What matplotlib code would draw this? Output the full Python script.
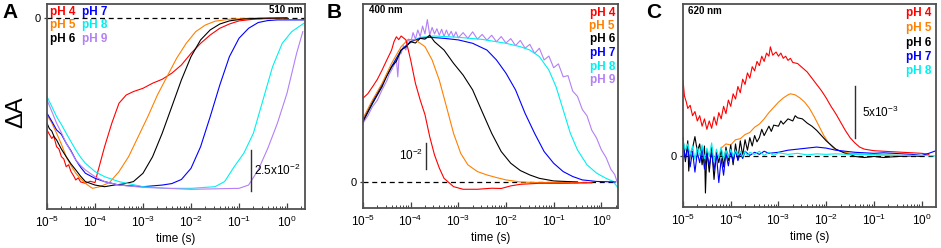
import numpy as np
import matplotlib
matplotlib.use('Agg')
import matplotlib.pyplot as plt
from matplotlib.ticker import LogLocator, NullFormatter

plt.rcParams['font.family'] = ['Liberation Sans', 'DejaVu Sans']
plt.rcParams['mathtext.default'] = 'regular'

# colours of the pH series
ph_labels = ['pH 4', 'pH 5', 'pH 6', 'pH 7', 'pH 8', 'pH 9']
ph_colors = ['#ff0000', '#ff8000', '#000000', '#0000ff', '#00f0f0', '#b380f5']

# ---- panel A, 510 nm : (log10 t, dA in 1e-3) ----
a_ph4 = [(-5.0, -68.3), (-4.95, -71.0), (-4.9, -73.5), (-4.86, -72.0), (-4.8, -78.5), (-4.75, -80.0),
         (-4.7, -84.6), (-4.65, -86.0), (-4.6, -90.7), (-4.55, -89.5), (-4.5, -93.7), (-4.45, -96.0),
         (-4.4, -98.8), (-4.35, -97.5), (-4.3, -100.0), (-4.2, -100.8), (-4.1, -99.6), (-4.0, -100.4),
         (-3.95, -94.7), (-3.8, -78.5), (-3.65, -64.2), (-3.5, -52.0), (-3.35, -47.0), (-3.2, -44.9),
         (-3.0, -42.9), (-2.8, -39.8), (-2.6, -37.4), (-2.4, -33.7), (-2.2, -28.7), (-2.0, -21.6),
         (-1.8, -15.5), (-1.6, -10.4), (-1.4, -6.3), (-1.2, -3.7), (-1.0, -1.8), (-0.7, -0.8),
         (-0.3, -0.2), (0.0, 0.0)]
a_ph5 = [(-5.0, -59.2), (-4.9, -64.0), (-4.8, -70.3), (-4.7, -77.0), (-4.6, -84.6), (-4.5, -90.0),
         (-4.4, -94.7), (-4.3, -98.0), (-4.2, -100.8), (-4.1, -103.0), (-4.05, -103.9), (-3.9, -102.9),
         (-3.7, -100.4), (-3.5, -93.7), (-3.3, -84.6), (-3.1, -72.4), (-2.9, -60.2), (-2.7, -47.0),
         (-2.5, -35.8), (-2.3, -24.6), (-2.1, -15.5), (-1.9, -8.3), (-1.7, -4.3), (-1.5, -2.0),
         (-1.2, -0.8), (-0.8, -0.2), (0.0, 0.0)]
a_ph6 = [(-5.0, -64.2), (-4.95, -67.5), (-4.9, -69.0), (-4.85, -72.5), (-4.8, -74.4), (-4.7, -80.0),
         (-4.6, -84.6), (-4.5, -89.0), (-4.4, -92.7), (-4.3, -96.5), (-4.2, -99.8), (-4.0, -101.9),
         (-3.8, -102.9), (-3.6, -101.9), (-3.4, -101.2), (-3.2, -99.8), (-3.0, -94.7), (-2.8, -84.6),
         (-2.6, -70.3), (-2.4, -54.1), (-2.2, -37.8), (-2.0, -23.6), (-1.8, -13.4), (-1.6, -7.3),
         (-1.4, -3.7), (-1.2, -1.8), (-0.9, -0.6), (-0.5, -0.2), (0.0, 0.0)]
a_ph7 = [(-5.0, -58.1), (-4.9, -63.0), (-4.8, -68.3), (-4.7, -71.0), (-4.6, -76.4), (-4.5, -81.0),
         (-4.4, -86.6), (-4.3, -91.0), (-4.2, -94.7), (-4.0, -97.8), (-3.8, -99.8), (-3.5, -101.9),
         (-3.0, -102.9), (-2.6, -101.9), (-2.4, -101.0), (-2.2, -98.5), (-2.0, -91.7), (-1.8, -78.5),
         (-1.6, -60.2), (-1.4, -40.9), (-1.2, -23.6), (-1.0, -12.4), (-0.8, -6.3), (-0.6, -2.8),
         (-0.4, -1.6), (-0.2, -1.2), (0.35, -1.2)]
a_ph8 = [(-5.0, -48.0), (-4.9, -54.0), (-4.8, -60.2), (-4.7, -65.0), (-4.6, -70.3), (-4.5, -75.5),
         (-4.4, -80.5), (-4.3, -85.0), (-4.2, -88.6), (-4.0, -93.7), (-3.8, -96.8), (-3.5, -99.8),
         (-3.0, -102.9), (-2.5, -103.9), (-2.0, -103.9), (-1.5, -102.9), (-1.3, -99.8), (-1.1, -90.7),
         (-0.9, -82.5), (-0.7, -70.3), (-0.5, -50.0), (-0.3, -29.7), (-0.1, -15.5), (0.1, -8.3),
         (0.35, -3.3)]
a_ph9 = [(-5.0, -50.0), (-4.9, -57.0), (-4.8, -64.2), (-4.7, -70.0), (-4.6, -76.4), (-4.5, -81.5),
         (-4.4, -86.6), (-4.3, -90.0), (-4.2, -92.7), (-4.0, -96.8), (-3.8, -99.8), (-3.5, -101.9),
         (-3.0, -103.3), (-2.5, -103.9), (-2.0, -104.5), (-1.5, -104.2), (-1.0, -103.9), (-0.8, -101.9),
         (-0.6, -92.7), (-0.4, -79.5), (-0.2, -64.2), (0.0, -45.9), (0.2, -21.6), (0.33, -8.3)]

# ---- panel B, 400 nm ----
b_ph4 = [(-5.0, 32.3), (-4.9, 34.0), (-4.8, 36.7), (-4.7, 39.5), (-4.6, 43.1), (-4.5, 47.0),
         (-4.4, 50.8), (-4.35, 54.0), (-4.3, 55.9), (-4.25, 54.8), (-4.2, 56.2), (-4.1, 54.7),
         (-4.0, 47.0), (-3.9, 38.0), (-3.8, 31.6), (-3.7, 26.0), (-3.6, 17.5), (-3.5, 10.5),
         (-3.4, 5.5), (-3.3, 1.5), (-3.1, -1.7), (-2.9, -2.7), (-2.6, -2.7), (-2.3, -2.3),
         (-2.1, -2.4), (-1.9, -1.4), (-1.7, -0.8), (-1.3, -0.4), (-0.8, -0.4), (-0.2, -0.2)]
b_ph5 = [(-5.0, 24.6), (-4.8, 31.6), (-4.6, 38.0), (-4.4, 45.7), (-4.2, 52.1), (-4.05, 54.9),
         (-3.9, 54.7), (-3.7, 52.1), (-3.55, 47.0), (-3.4, 39.3), (-3.25, 29.1), (-3.1, 18.8),
         (-2.95, 11.1), (-2.8, 6.7), (-2.6, 4.1), (-2.4, 2.8), (-2.2, 1.8), (-2.0, 0.9),
         (-1.7, 0.1), (-1.4, -0.1), (-1.0, -0.1), (-0.2, -0.2)]
b_ph6 = [(-5.0, 23.3), (-4.8, 30.3), (-4.6, 36.7), (-4.5, 41.0), (-4.4, 44.4), (-4.3, 46.5),
         (-4.2, 50.8), (-4.1, 52.0), (-4.0, 54.0), (-3.9, 53.5), (-3.8, 55.3), (-3.7, 55.0),
         (-3.6, 56.5), (-3.5, 54.0), (-3.3, 50.8), (-3.1, 45.7), (-2.9, 41.2), (-2.7, 35.5),
         (-2.5, 27.1), (-2.3, 18.8), (-2.1, 11.8), (-1.9, 7.3), (-1.7, 4.5), (-1.5, 2.8),
         (-1.3, 1.5), (-1.0, 0.5), (-0.5, 0.1)]
b_ph7 = [(-5.0, 23.9), (-4.8, 31.0), (-4.6, 37.4), (-4.4, 44.4), (-4.2, 50.8), (-4.0, 54.0),
         (-3.8, 55.3), (-3.6, 55.7), (-3.3, 55.3), (-3.0, 54.7), (-2.7, 53.4), (-2.4, 50.8),
         (-2.2, 47.0), (-2.0, 41.9), (-1.8, 35.5), (-1.6, 26.5), (-1.4, 18.8), (-1.2, 11.8),
         (-1.0, 7.3), (-0.8, 4.1), (-0.6, 2.2), (-0.4, 0.9), (-0.1, 0.3), (0.3, 0.1)]
b_ph8 = [(-5.0, 23.9), (-4.8, 30.3), (-4.6, 37.4), (-4.4, 44.4), (-4.2, 50.8), (-4.0, 54.0),
         (-3.8, 55.7), (-3.5, 56.2), (-3.0, 55.7), (-2.5, 54.9), (-2.0, 53.4), (-1.7, 52.1),
         (-1.5, 50.8), (-1.3, 48.3), (-1.1, 43.1), (-0.95, 36.7), (-0.8, 27.8), (-0.65, 18.8),
         (-0.5, 12.4), (-0.3, 6.7), (-0.1, 3.5), (0.1, 1.5), (0.25, 0.3), (0.34, -1.9)]
b_ph9 = [(-5.0, 22.7), (-4.9, 25.5), (-4.8, 29.1), (-4.7, 31.5), (-4.6, 35.5), (-4.5, 39.0),
         (-4.45, 41.5), (-4.4, 43.1), (-4.35, 45.0), (-4.3, 47.5), (-4.27, 40.5), (-4.24, 49.0),
         (-4.2, 49.5), (-4.15, 52.5), (-4.1, 50.8), (-4.05, 55.0), (-4.0, 53.5), (-3.95, 57.5),
         (-3.9, 55.0), (-3.85, 58.5), (-3.8, 56.0), (-3.75, 60.0), (-3.7, 57.0), (-3.65, 62.5),
         (-3.6, 56.5), (-3.55, 59.5), (-3.5, 57.0), (-3.45, 59.0), (-3.4, 56.5), (-3.35, 58.8),
         (-3.3, 56.0), (-3.25, 58.5), (-3.2, 56.2), (-3.15, 58.0), (-3.1, 55.8), (-3.05, 57.8),
         (-3.0, 55.5), (-2.9, 57.5), (-2.8, 55.3), (-2.7, 57.8), (-2.6, 55.0), (-2.5, 56.8),
         (-2.4, 54.6), (-2.3, 56.5), (-2.2, 54.0), (-2.1, 56.0), (-2.0, 53.5), (-1.9, 55.2),
         (-1.8, 52.5), (-1.7, 54.5), (-1.6, 51.5), (-1.5, 53.0), (-1.4, 49.5), (-1.3, 51.5),
         (-1.2, 47.0), (-1.1, 48.5), (-1.0, 44.0), (-0.9, 45.5), (-0.8, 40.5), (-0.7, 41.0),
         (-0.6, 35.0), (-0.5, 33.0), (-0.4, 28.0), (-0.3, 25.5), (-0.2, 20.0), (-0.1, 17.0),
         (0.0, 12.5), (0.1, 9.5), (0.2, 5.0), (0.28, 3.0), (0.33, 0.3)]

# ---- panel C, 620 nm ----
c_ph4 = [(-5.0, 7.3), (-4.97, 5.8), (-4.93, 5.2), (-4.9, 4.6), (-4.85, 4.9), (-4.8, 3.9),
         (-4.75, 4.3), (-4.7, 3.4), (-4.65, 3.9), (-4.6, 2.9), (-4.55, 3.6), (-4.5, 2.6),
         (-4.45, 3.4), (-4.4, 2.7), (-4.35, 3.8), (-4.3, 3.0), (-4.25, 4.2), (-4.2, 3.6),
         (-4.15, 4.8), (-4.1, 4.1), (-4.05, 5.4), (-4.0, 4.8), (-3.95, 6.0), (-3.9, 5.5),
         (-3.85, 6.7), (-3.8, 6.1), (-3.75, 7.4), (-3.7, 6.9), (-3.65, 8.0), (-3.6, 7.5),
         (-3.55, 8.6), (-3.5, 8.2), (-3.45, 9.1), (-3.4, 8.7), (-3.35, 9.6), (-3.3, 9.1),
         (-3.25, 9.9), (-3.2, 9.6), (-3.17, 10.5), (-3.12, 9.7), (-3.05, 10.0), (-3.0, 9.6),
         (-2.95, 9.9), (-2.9, 9.4), (-2.85, 9.6), (-2.8, 9.2), (-2.75, 9.4), (-2.7, 9.0),
         (-2.6, 8.9), (-2.5, 8.5), (-2.4, 8.1), (-2.3, 7.5), (-2.2, 6.9), (-2.1, 6.3),
         (-2.0, 5.6), (-1.9, 4.8), (-1.8, 4.1), (-1.7, 3.3), (-1.6, 2.5), (-1.5, 1.8),
         (-1.4, 1.3), (-1.3, 0.9), (-1.2, 0.7), (-1.0, 0.55), (-0.8, 0.5), (-0.6, 0.45),
         (-0.4, 0.4), (-0.2, 0.35), (0.0, 0.3), (0.15, 0.2)]
c_ph5 = [(-4.2, 0.8), (-4.1, 1.2), (-4.0, 1.1), (-3.9, 1.6), (-3.8, 1.7), (-3.7, 2.1), (-3.6, 2.3),
         (-3.5, 2.8), (-3.4, 3.1), (-3.3, 3.6), (-3.2, 4.2), (-3.1, 4.7), (-3.0, 5.2), (-2.9, 5.6),
         (-2.8, 5.9), (-2.75, 6.0), (-2.65, 5.9), (-2.55, 5.6), (-2.45, 5.2), (-2.35, 4.6),
         (-2.25, 3.8), (-2.15, 2.9), (-2.05, 2.0), (-1.95, 1.3), (-1.85, 0.8), (-1.7, 0.5),
         (-1.5, 0.3), (-1.2, 0.2), (-0.8, 0.15), (-0.5, 0.1)]
c_ph6 = [(-5.0, 1.8), (-4.95, -0.5), (-4.9, 1.5), (-4.88, -1.4), (-4.85, 0.2), (-4.8, 0.8),
         (-4.75, 1.9), (-4.7, 0.5), (-4.65, 1.2), (-4.6, -0.8), (-4.55, 1.0), (-4.53, -3.5),
         (-4.5, 0.6), (-4.45, -1.5), (-4.4, 0.9), (-4.35, -2.2), (-4.3, 0.4), (-4.25, -0.6),
         (-4.2, 0.7), (-4.15, -1.0), (-4.1, 0.9), (-4.05, -0.4), (-4.0, 1.1), (-3.95, -0.8),
         (-3.9, 1.2), (-3.85, -0.3), (-3.8, 1.5), (-3.75, 0.1), (-3.7, 1.6), (-3.65, 0.6),
         (-3.6, 1.8), (-3.55, 1.0), (-3.5, 2.0), (-3.45, 1.4), (-3.4, 1.8), (-3.35, 2.6),
         (-3.3, 2.0), (-3.2, 2.9), (-3.15, 2.4), (-3.1, 3.0), (-3.0, 2.9), (-2.95, 3.4),
         (-2.9, 3.1), (-2.8, 3.6), (-2.7, 3.4), (-2.65, 3.9), (-2.6, 3.7), (-2.5, 3.6),
         (-2.4, 3.2), (-2.3, 2.9), (-2.2, 2.5), (-2.1, 2.0), (-2.0, 1.5), (-1.9, 1.1),
         (-1.8, 0.7), (-1.7, 0.5), (-1.6, 0.3), (-1.5, 0.2), (-1.4, 0.0), (-1.2, -0.1),
         (-1.0, 0.0), (-0.8, -0.1), (-0.5, 0.0), (-0.2, 0.05), (0.0, 0.0)]
c_ph7 = [(-5.0, 1.0), (-4.95, -0.2), (-4.9, 0.9), (-4.85, -1.0), (-4.8, 0.5), (-4.75, -1.5),
         (-4.7, 0.4), (-4.65, -0.6), (-4.6, 0.8), (-4.55, -1.2), (-4.5, 0.3), (-4.45, -0.9),
         (-4.4, 0.5), (-4.35, -1.3), (-4.3, 0.2), (-4.25, -2.5), (-4.2, -0.2), (-4.15, -1.8),
         (-4.1, 0.3), (-4.05, -0.9), (-4.0, 0.4), (-3.95, -0.5), (-3.9, 0.6), (-3.85, -0.4),
         (-3.8, 0.3), (-3.75, -0.2), (-3.7, 0.5), (-3.6, 0.1), (-3.5, 0.4), (-3.4, 0.2),
         (-3.3, 0.5), (-3.2, 0.3), (-3.0, 0.4), (-2.8, 0.6), (-2.6, 0.7), (-2.4, 0.8),
         (-2.2, 0.9), (-2.0, 0.8), (-1.8, 0.6), (-1.6, 0.5), (-1.4, 0.4), (-1.2, 0.35),
         (-1.0, 0.3), (-0.8, 0.35), (-0.6, 0.3), (-0.4, 0.25), (-0.2, 0.2), (0.0, 0.1),
         (0.15, 0.3), (0.3, 0.55)]
c_ph8 = [(-5.0, 1.5), (-4.95, 0.6), (-4.9, 1.2), (-4.85, 0.2), (-4.8, 1.0), (-4.75, -0.3),
         (-4.7, 0.9), (-4.65, 0.1), (-4.6, 1.1), (-4.55, -0.2), (-4.5, 0.8), (-4.45, 0.0),
         (-4.4, 1.3), (-4.35, -0.5), (-4.3, 0.7), (-4.25, -0.1), (-4.2, 0.9), (-4.15, -0.3),
         (-4.1, 0.6), (-4.05, -0.1), (-4.0, 0.7), (-3.95, 0.0), (-3.9, 0.6), (-3.85, 0.1),
         (-3.8, 0.5), (-3.75, 0.0), (-3.7, 0.5), (-3.65, 0.1), (-3.6, 0.4), (-3.5, 0.2),
         (-3.4, 0.5), (-3.3, 0.1), (-3.2, 0.4), (-3.1, 0.1), (-3.0, 0.35), (-2.8, 0.2),
         (-2.6, 0.3), (-2.4, 0.15), (-2.2, 0.25), (-2.0, 0.2), (-1.8, 0.25), (-1.5, 0.2),
         (-1.2, 0.2), (-0.8, 0.15), (-0.4, 0.1), (0.0, 0.1), (0.3, 0.05)]

fig = plt.figure(figsize=(9.41, 2.48), dpi=100)
W, H = 941.0, 248.0


def make_axes(x0, x1, y0, y1):
    return fig.add_axes([x0 / W, 1 - y1 / H, (x1 - x0) / W, (y1 - y0) / H])


def style(ax, xmax, ylim):
    ax.set_xscale('log')
    ax.set_xlim(1e-5, 10 ** xmax)
    ax.set_ylim(*ylim)
    ax.xaxis.set_major_locator(LogLocator(base=10, numticks=12))
    ax.xaxis.set_minor_locator(LogLocator(base=10, subs=np.arange(2, 10), numticks=12))
    ax.xaxis.set_minor_formatter(NullFormatter())
    ax.tick_params(axis='x', which='major', direction='in', length=4, width=0.9,
                   labelsize=8.5, pad=4, color='#404040')
    ax.tick_params(axis='x', which='minor', direction='in', length=2.2, width=0.7, color='#404040')
    ax.set_yticks([0])
    ax.set_yticklabels(['0'])
    ax.tick_params(axis='y', direction='out', length=2.5, width=0.9, labelsize=8, pad=2,
                   color='#404040')
    for s in ax.spines.values():
        s.set_color('#505050')
        s.set_linewidth(1.3)
    ax.axhline(0, color='black', lw=0.9, ls=(0, (4, 3)), zorder=0.5)
    ax.set_xlabel('time (s)', fontsize=8.5, labelpad=2)


def draw(ax, curves, colors):
    for pts, c in zip(curves, colors):
        lt, v = zip(*pts)
        ax.plot(10 ** np.array(lt), v, color=c, lw=0.8)


def scalebar(ax, lt, y0, y1, label, lx, ha):
    x = 10 ** lt
    ax.plot([x, x], [y0, y1], color='#303030', lw=1.0)
    ax.text(10 ** lx, (y0 + y1) / 2, label, fontsize=8.5, ha=ha, va='center')


# panel A
axA = make_axes(47, 305, 4, 209)
style(axA, 0.375, (-116.5, 8.5))
draw(axA, [a_ph4, a_ph5, a_ph6, a_ph7, a_ph8, a_ph9], ph_colors)
scalebar(axA, -0.75, -105.5, -80.5, r'2.5x10$^{-2}$', -0.68, 'left')
for i, (lab, c) in enumerate(zip(ph_labels, ph_colors)):
    col, row = divmod(i, 3)
    axA.text([0.012, 0.136][col], [0.961, 0.898, 0.829][row], lab, color=c, fontsize=8.5,
             fontweight='bold', ha='left', va='center', transform=axA.transAxes)
axA.text(0.99, 0.97, '510 nm', fontsize=7, fontweight='bold', ha='right', va='center',
         transform=axA.transAxes)

# panel B
axB = make_axes(363, 618, 4, 208)
style(axB, 0.35, (-9.9, 68.5))
draw(axB, [b_ph4, b_ph5, b_ph6, b_ph7, b_ph8, b_ph9][::-1], ph_colors[::-1])
scalebar(axB, -3.67, 5.2, 15.2, r'10$^{-2}$', -3.74, 'right')
rowsB = [0.956, 0.892, 0.828, 0.760, 0.691, 0.627]
for lab, c, y in zip(ph_labels, ph_colors, rowsB):
    axB.text(0.988, y, lab, color=c, fontsize=8.5, fontweight='bold', ha='right', va='center',
             transform=axB.transAxes)
axB.text(0.024, 0.97, '400 nm', fontsize=7, fontweight='bold', ha='left', va='center',
         transform=axB.transAxes)

# panel C
axC = make_axes(683, 936, 4, 207)
style(axC, 0.30, (-4.84, 14.6))
draw(axC, [c_ph4, c_ph5, c_ph6, c_ph7, c_ph8], ph_colors[:5])
scalebar(axC, -1.39, 1.75, 6.74, r'5x10$^{-3}$', -1.26, 'left')
rowsC = [0.954, 0.880, 0.809, 0.740, 0.670]
for lab, c, y in zip(ph_labels[:5], ph_colors[:5], rowsC):
    axC.text(0.983, y, lab, color=c, fontsize=8.5, fontweight='bold', ha='right', va='center',
             transform=axC.transAxes)
axC.text(0.02, 0.965, '620 nm', fontsize=7, fontweight='bold', ha='left', va='center',
         transform=axC.transAxes)

# panel letters and shared y label
fig.text(2 / W, 1 - 12 / H, 'A', fontsize=15, fontweight='bold', ha='left', va='center')
fig.text(327 / W, 1 - 12 / H, 'B', fontsize=15, fontweight='bold', ha='left', va='center')
fig.text(646 / W, 1 - 12 / H, 'C', fontsize=15, fontweight='bold', ha='left', va='center')
fig.text(16 / W, 1 - 112 / H, 'ΔA', fontsize=17, rotation=90, ha='center', va='center')

fig.savefig('out.png', dpi=100)
